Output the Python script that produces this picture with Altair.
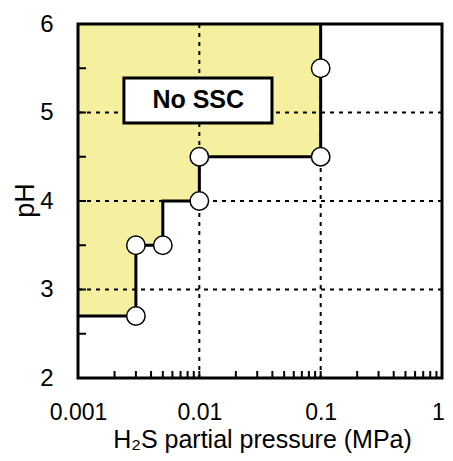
import altair as alt
import pandas as pd

# step boundary (step-after) of the "No SSC" region
step_x = [0.001, 0.003, 0.005, 0.01, 0.1]
step_y = [2.7, 3.5, 4.0, 4.5, 6.0]
# measured points
pt_x = [0.003, 0.003, 0.005, 0.01, 0.01, 0.1, 0.1]
pt_y = [2.7, 3.5, 3.5, 4.0, 4.5, 4.5, 5.5]
# axes
x_labels = [0.001, 0.01, 0.1, 1]
y_labels = [2, 3, 4, 5, 6]
x_grid = [0.01, 0.1]
y_grid = [3, 4, 5]
x_minor = [0.002, 0.003, 0.004, 0.005, 0.006, 0.007, 0.008, 0.009, 0.01,
           0.02, 0.03, 0.04, 0.05, 0.06, 0.07, 0.08, 0.09, 0.1,
           0.2, 0.3, 0.4, 0.5, 0.6, 0.7, 0.8, 0.9]
y_minor = [2.5, 3, 3.5, 4, 4.5, 5, 5.5]
# annotation box
box_label = ["No SSC"]
box_x = [0.00239]
box_x2 = [0.0397]
box_y = [5.39]
box_y2 = [4.88]
box_tx = [0.0098]
box_ty = [5.14]

W, H = 364, 354
FONT = "Liberation Sans"

xscale = alt.Scale(type="log", domain=[0.001, 1])
yscale = alt.Scale(domain=[2, 6])

XAX = alt.Axis(values=x_labels, format="~g", title="H₂S partial pressure (MPa)",
               grid=False, ticks=False, tickSize=0, domain=False,
               labelFont=FONT, labelFontSize=23, labelColor="black",
               labelPadding=23.5, labelFlush=False,
               labelOffset=alt.ExprRef("datum.value == 1 ? -4 : 0"),
               titleFont=FONT, titleFontSize=25, titleFontWeight="normal",
               titleColor="black", titleBaseline="alphabetic",
               titleX=184, titleY=69.6)
YAX = alt.Axis(values=y_labels, title="pH", grid=False, ticks=False, tickSize=0,
               domain=False, labelFont=FONT, labelFontSize=24, labelColor="black",
               labelPadding=25, labelFlush=False,
               titleFont=FONT, titleFontSize=27, titleFontWeight="normal",
               titleColor="black", titleBaseline="alphabetic",
               titleX=-45, titleY=176)


def X(f):
    return alt.X(f, scale=xscale, axis=XAX)


def Y(f):
    return alt.Y(f, scale=yscale, axis=YAX)


step_df = pd.DataFrame({"x": step_x, "y": step_y, "top": [6.0] * len(step_x)})
pt_df = pd.DataFrame({"x": pt_x, "y": pt_y})

area = alt.Chart(step_df).mark_area(interpolate="step-after", color="#f4f0a0", opacity=1).encode(
    x=X("x:Q"), y=Y("y:Q"), y2="top:Q")

gx = alt.Chart(pd.DataFrame({"x": x_grid})).mark_rule(
    color="black", strokeWidth=2, strokeDash=[4, 5]).encode(x=X("x:Q"))
gy = alt.Chart(pd.DataFrame({"y": y_grid})).mark_rule(
    color="black", strokeWidth=2, strokeDash=[4, 5]).encode(y=Y("y:Q"))

box_df = pd.DataFrame({"x": box_x, "x2": box_x2, "y": box_y, "y2": box_y2,
                       "tx": box_tx, "ty": box_ty, "label": box_label})
box = alt.Chart(box_df).mark_rect(fill="white", stroke="black", strokeWidth=3).encode(
    x=X("x:Q"), x2="x2:Q", y=Y("y:Q"), y2="y2:Q")
box_text = alt.Chart(box_df).mark_text(font=FONT, fontSize=25, fontWeight="bold",
                                       color="black", baseline="middle", align="center").encode(
    x=X("tx:Q"), y=Y("ty:Q"), text="label:N")

line = alt.Chart(step_df).mark_line(interpolate="step-after", color="black", strokeWidth=3).encode(
    x=X("x:Q"), y=Y("y:Q"))

points = alt.Chart(pt_df).mark_point(shape="circle", filled=True, fill="white", stroke="black",
                                     strokeWidth=1.5, size=340, opacity=1).encode(
    x=X("x:Q"), y=Y("y:Q"))

xt = alt.Chart(pd.DataFrame({"x": x_minor})).mark_rule(color="black", strokeWidth=2).encode(
    x=X("x:Q"), y=alt.value(H), y2=alt.value(H - 7))
yt = alt.Chart(pd.DataFrame({"y": y_minor})).mark_rule(color="black", strokeWidth=2).encode(
    y=Y("y:Q"), x=alt.value(0), x2=alt.value(8))

frame = alt.Chart(pd.DataFrame({"a": [0]})).mark_rect(fill=None, stroke="black", strokeWidth=3).encode(
    x=alt.value(0), x2=alt.value(W), y=alt.value(0), y2=alt.value(H))

chart = alt.layer(area, gx, gy, box, box_text, line, points, xt, yt, frame).properties(
    width=W, height=H,
    autosize=alt.AutoSizeParams(type="none"),
    padding={"left": 70, "top": 16, "right": 3, "bottom": 75},
).configure_view(stroke=None).configure(background="white")

chart.save("out.html", embed_options={"renderer": "svg", "actions": False})
